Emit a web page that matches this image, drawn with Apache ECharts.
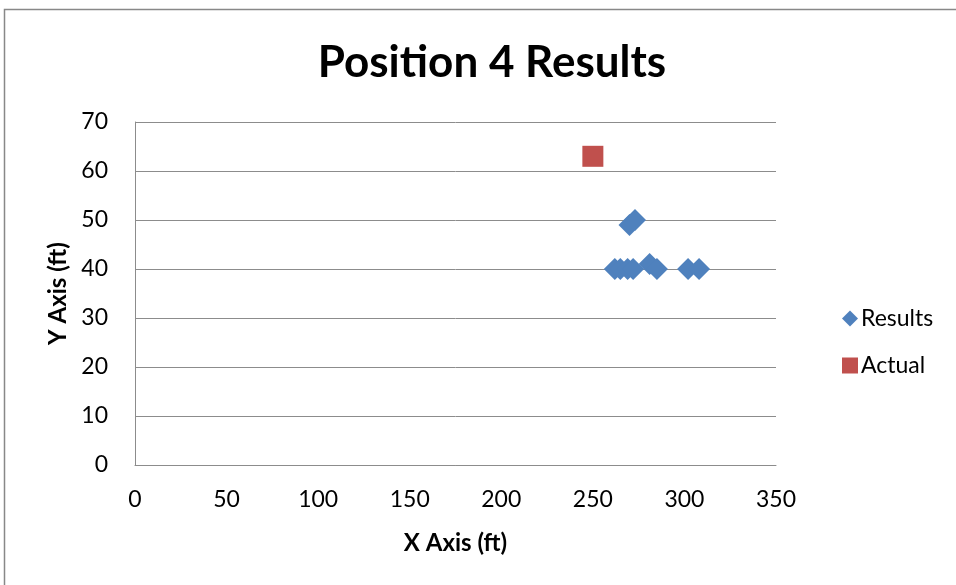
<!DOCTYPE html>
<html>
<head>
<meta charset="utf-8">
<script src="https://cdn.jsdelivr.net/npm/echarts@6/dist/echarts.min.js"></script>
<style>
  html, body { margin: 0; padding: 0; background: #fff; }
  #chart { width: 956px; height: 585px; }
</style>
</head>
<body>
<div id="chart"></div>
<script>
// Measured positions (ft)
const resultsX = [262, 265, 269, 272, 270, 273, 281, 285, 302, 308];
const resultsY = [40, 40, 40, 40, 49, 50, 41, 40, 40, 40];
const actualX = [250];
const actualY = [63];

const titleText = 'Position 4 Results';
const xName = 'X Axis (ft)';
const yName = 'Y Axis (ft)';

const font = 'Lato, "Open Sans", sans-serif';
const gridColor = '#8c8c8c';

const chart = echarts.init(document.getElementById('chart'));
chart.setOption({
  animation: false,
  backgroundColor: '#fff',
  graphic: [{
    type: 'rect',
    shape: { x: 4.5, y: 9.5, width: 980, height: 600 },
    style: { fill: 'none', stroke: '#888', lineWidth: 1.5 },
    silent: true
  }],
  title: {
    text: titleText,
    left: 487, top: 36, textAlign: 'center',
    textStyle: { fontFamily: font, fontWeight: 'bold', fontSize: 44, color: '#000' }
  },
  grid: { left: 135, top: 122, width: 641, height: 343 },
  legend: {
    orient: 'vertical',
    left: 837, top: 302,
    itemGap: 24,
    itemWidth: 16, itemHeight: 16,
    textStyle: { fontFamily: font, fontSize: 23, color: '#000', padding: [0, 0, 0, -2] },
    data: [
      { name: 'Results', icon: 'diamond' },
      { name: 'Actual', icon: 'rect' }
    ]
  },
  xAxis: {
    type: 'value', min: 0, max: 350, interval: 50,
    name: xName, nameLocation: 'middle', nameGap: 66,
    nameTextStyle: { fontFamily: font, fontWeight: 'bold', fontSize: 24, color: '#000' },
    axisLine: { show: true, lineStyle: { color: gridColor, width: 1 } },
    axisTick: { show: false },
    splitLine: { show: false },
    axisLabel: { fontFamily: font, fontSize: 23, color: '#000', margin: 23 }
  },
  yAxis: {
    type: 'value', min: 0, max: 70, interval: 10,
    name: yName, nameLocation: 'middle', nameGap: 62, nameRotate: 90,
    nameTextStyle: { fontFamily: font, fontWeight: 'bold', fontSize: 24, color: '#000' },
    axisLine: { show: true, lineStyle: { color: gridColor, width: 1 } },
    axisTick: { show: false },
    splitLine: { show: true, lineStyle: { color: gridColor, width: 1 } },
    axisLabel: { fontFamily: font, fontSize: 23, color: '#000', margin: 27 }
  },
  series: [
    {
      name: 'Results', type: 'scatter', symbol: 'diamond', symbolSize: 22,
      itemStyle: { color: '#4F81BD', opacity: 1 },
      data: resultsX.map((x, i) => [x, resultsY[i]])
    },
    {
      name: 'Actual', type: 'scatter', symbol: 'rect', symbolSize: 21,
      itemStyle: { color: '#C0504D', opacity: 1 },
      data: actualX.map((x, i) => [x, actualY[i]])
    }
  ]
});
</script>
</body>
</html>
